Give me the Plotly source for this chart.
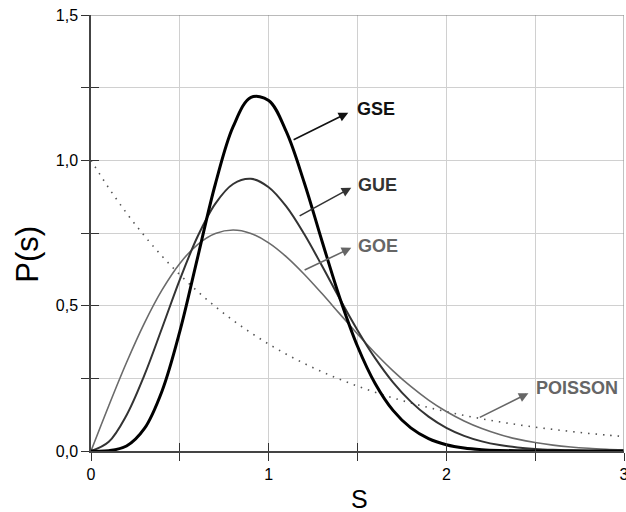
import plotly.graph_objects as go

s = [round(i * 0.1, 1) for i in range(31)]

p_goe = [0.0, 0.1559, 0.3044, 0.4391, 0.5541, 0.6454, 0.7104, 0.7483, 0.7602, 0.7483,
         0.7162, 0.6680, 0.6083, 0.5416, 0.4718, 0.4025, 0.3365, 0.2759, 0.2220, 0.1752,
         0.1358, 0.1033, 0.0772, 0.0567, 0.0409, 0.0290, 0.0202, 0.0138, 0.0093, 0.0062, 0.0040]
p_gue = [0.0, 0.0320, 0.1233, 0.2602, 0.4232, 0.5896, 0.7380, 0.8513, 0.9186, 0.9364,
         0.9076, 0.8405, 0.7464, 0.6372, 0.5240, 0.4158, 0.3188, 0.2364, 0.1698, 0.1181,
         0.0796, 0.0521, 0.0331, 0.0204, 0.0122, 0.0071, 0.0040, 0.0022, 0.0012, 0.0006, 0.0003]
p_gse = [0.0, 0.0011, 0.0170, 0.0766, 0.2067, 0.4116, 0.6654, 0.9185, 1.1158, 1.2165,
         1.2060, 1.0975, 0.9237, 0.7225, 0.5275, 0.3605, 0.2314, 0.1397, 0.0795, 0.0427,
         0.0217, 0.0104, 0.0047, 0.0020, 0.0008, 0.0003, 0.0001, 0.0, 0.0, 0.0, 0.0]
p_poisson = [1.0, 0.9048, 0.8187, 0.7408, 0.6703, 0.6065, 0.5488, 0.4966, 0.4493, 0.4066,
             0.3679, 0.3329, 0.3012, 0.2725, 0.2466, 0.2231, 0.2019, 0.1827, 0.1653, 0.1496,
             0.1353, 0.1225, 0.1108, 0.1003, 0.0907, 0.0821, 0.0743, 0.0672, 0.0608, 0.0550, 0.0498]

x_ticks = [0, 0.5, 1, 1.5, 2, 2.5, 3]
x_ticktext = ["0", "", "1", "", "2", "", "3"]
y_ticks = [0, 0.25, 0.5, 0.75, 1.0, 1.25, 1.5]
y_ticktext = ["0,0", "", "0,5", "", "1,0", "", "1,5"]

labels = ["GSE", "GUE", "GOE", "POISSON"]
label_pos = [(1.606, 1.175), (1.611, 0.916), (1.617, 0.706), (2.738, 0.216)]
arrow_tail = [(1.132, 1.068), (1.166, 0.806), (1.194, 0.620), (2.180, 0.113)]
arrow_head = [(1.448, 1.164), (1.465, 0.906), (1.465, 0.699), (2.462, 0.199)]
label_colors = ["#111111", "#333333", "#666666", "#666666"]

x_title = "S"
y_title = "P(s)"

FONT = "Liberation Sans, Arial, sans-serif"

fig = go.Figure()
fig.add_trace(go.Scatter(x=s, y=p_poisson, mode="lines",
                         line=dict(color="#555555", width=1.6, dash="1.5px,6px", shape="spline"),
                         hoverinfo="skip"))
fig.add_trace(go.Scatter(x=s, y=p_goe, mode="lines",
                         line=dict(color="#6a6a6a", width=1.6, shape="spline"), hoverinfo="skip"))
fig.add_trace(go.Scatter(x=s, y=p_gue, mode="lines",
                         line=dict(color="#333333", width=2, shape="spline"), hoverinfo="skip"))
fig.add_trace(go.Scatter(x=s, y=p_gse, mode="lines",
                         line=dict(color="#000000", width=3, shape="spline"), hoverinfo="skip"))
# invisible trace on overlay axes (for inner tick halves)
fig.add_trace(go.Scatter(x=[0], y=[0], xaxis="x2", yaxis="y2", mode="markers",
                         marker=dict(opacity=0), hoverinfo="skip"))

for lab, (tx, ty), (ax, ay), (hx, hy), col in zip(labels, label_pos, arrow_tail, arrow_head, label_colors):
    fig.add_annotation(x=tx, y=ty, text="<b>%s</b>" % lab, showarrow=False,
                       font=dict(family=FONT, size=18, color=col))
    fig.add_annotation(x=hx, y=hy, ax=ax, ay=ay, axref="x", ayref="y", text="",
                       showarrow=True, arrowhead=2, arrowsize=1.2, arrowwidth=1.6,
                       arrowcolor=col)

# axis titles
fig.add_annotation(x=1.5, y=0, xref="x", yref="y", yshift=-48, xshift=2, text=x_title,
                   showarrow=False, font=dict(family=FONT, size=25, color="#000000"))
fig.add_annotation(x=0, y=0.675, xref="x", yref="y", xshift=-63, text=y_title, textangle=-90,
                   showarrow=False, font=dict(family=FONT, size=31, color="#000000"))

fig.add_shape(type="line", x0=0, x1=3, y0=1.5, y1=1.5, line=dict(color="#777777", width=1.2))
fig.add_shape(type="line", x0=3, x1=3, y0=0, y1=1.5, line=dict(color="#999999", width=1.2))

common_x = dict(range=[0, 3], tickvals=x_ticks, zeroline=False, fixedrange=True, automargin=False)
common_y = dict(range=[0, 1.5], tickvals=y_ticks, zeroline=False, fixedrange=True, automargin=False)

fig.update_layout(
    width=626, height=512,
    margin=dict(l=91, r=2, t=15, b=61),
    paper_bgcolor="white", plot_bgcolor="white",
    showlegend=False,
    font=dict(family=FONT, color="#000000"),
    xaxis=dict(**common_x, ticktext=x_ticktext, showgrid=True, gridcolor="#d0d0d0", gridwidth=1,
               showline=True, linecolor="#444444", linewidth=1.5,
               ticks="outside", ticklen=8, tickwidth=1.3, tickcolor="#333333",
               ticklabeloverflow="allow",
               tickfont=dict(size=16, family=FONT)),
    yaxis=dict(**common_y, ticktext=y_ticktext, showgrid=True, gridcolor="#d0d0d0", gridwidth=1,
               showline=True, linecolor="#444444", linewidth=1.5,
               ticks="outside", ticklen=8, tickwidth=1.3, tickcolor="#333333",
               ticklabeloverflow="allow",
               tickfont=dict(size=16, family=FONT)),
    xaxis2=dict(**common_x, overlaying="x", anchor="y", side="bottom", showgrid=False,
                showticklabels=False, ticks="inside", ticklen=8, tickwidth=1.3, tickcolor="#333333"),
    yaxis2=dict(**common_y, overlaying="y", anchor="x", side="left", showgrid=False,
                showticklabels=False, ticks="inside", ticklen=8, tickwidth=1.3, tickcolor="#333333"),
)

fig.write_html("out.html", config={"displayModeBar": False},
               post_script="document.body.style.margin='0px';document.body.style.overflow='hidden';")
